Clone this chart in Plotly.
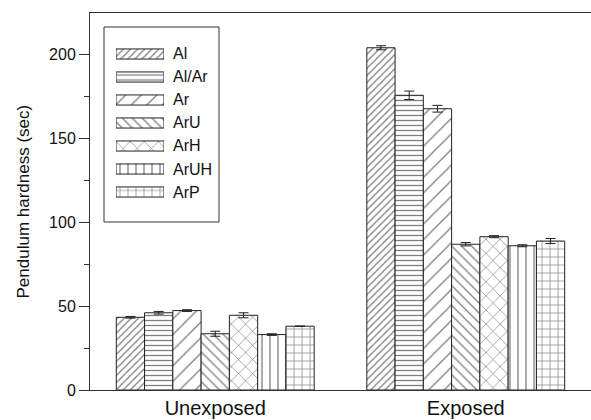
import plotly.graph_objects as go

categories = ["Unexposed", "Exposed"]
series = ["Al", "Al/Ar", "Ar", "ArU", "ArH", "ArUH", "ArP"]
values = {
    "Al": [43.3, 203.8],
    "Al/Ar": [46.0, 175.5],
    "Ar": [47.3, 167.5],
    "ArU": [33.5, 86.8],
    "ArH": [44.5, 91.3],
    "ArUH": [33.0, 85.9],
    "ArP": [38.0, 88.7],
}
errors = {
    "Al": [0.5, 1.2],
    "Al/Ar": [0.8, 2.5],
    "Ar": [0.5, 2.0],
    "ArU": [1.5, 1.0],
    "ArH": [1.5, 0.6],
    "ArUH": [0.5, 0.6],
    "ArP": [0.0, 1.5],
}
y_ticks = [0, 50, 100, 150, 200]
y_minor = [25, 75, 125, 175]
y_title = "Pendulum hardness (sec)"
patterns = {
    "Al": ("/", 5),
    "Al/Ar": ("-", 5),
    "Ar": ("/", 11),
    "ArU": ("\\", 7),
    "ArH": ("x", 10),
    "ArUH": ("|", 8),
    "ArP": ("+", 8),
}

def marker(s):
    shp, size = patterns[s]
    return dict(color="white", line=dict(color="#222", width=1),
                pattern=dict(shape=shp, size=size, solidity=1.3 / size,
                             fgcolor="#000", bgcolor="white", fillmode="overlay"))

fig = go.Figure()
for s in series:
    fig.add_trace(go.Bar(
        name=s, x=categories, y=values[s], marker=marker(s), showlegend=False,
        error_y=dict(type="data", array=errors[s], color="#222", thickness=1, width=5),
    ))

# legend swatches drawn as bars on an inset axis
for i, s in enumerate(series):
    fig.add_trace(go.Bar(
        x=[1], y=[i], orientation="h", width=0.44, offset=-0.22,
        marker=marker(s), xaxis="x2", yaxis="y2", showlegend=False, hoverinfo="skip",
    ))

W = 501.0
H = 377.0
def px(x):
    return (x - 90) / W
def py(y):
    return (390 - y) / H

for i, s in enumerate(series):
    fig.add_annotation(text=s, xref="paper", yref="paper", x=px(171), y=py(54 + 23 * i),
                       xanchor="left", yanchor="middle", showarrow=False,
                       font=dict(size=16, color="#111"))

fig.add_annotation(text=y_title, xref="paper", yref="paper", x=px(23), y=0.5,
                   xanchor="center", yanchor="middle", textangle=-90, showarrow=False,
                   font=dict(size=17, color="#111"))

fig.add_shape(type="rect", xref="paper", yref="paper",
              x0=px(104), x1=px(219), y0=py(222), y1=py(27),
              line=dict(color="#333", width=1), fillcolor="rgba(0,0,0,0)")

fig.update_layout(
    template="none",
    width=591, height=420, autosize=False,
    margin=dict(l=90, r=0, t=13, b=30, pad=0, autoexpand=False),
    paper_bgcolor="white", plot_bgcolor="white",
    barmode="group", bargap=0.21, bargroupgap=0,
    font=dict(family="Liberation Sans, Arial, sans-serif", size=16, color="#111"),
    showlegend=False,
    xaxis=dict(showline=True, linecolor="#333", linewidth=1, mirror=True, automargin=False,
               ticks="", showgrid=False, zeroline=False, range=[-0.5, 1.5],
               tickfont=dict(size=20)),
    yaxis=dict(showline=True, linecolor="#333", linewidth=1, range=[0, 224.5], automargin=False,
               tickvals=y_ticks, ticks="outside", ticklen=10, tickcolor="#333",
               showgrid=False, zeroline=False, tickfont=dict(size=16),
               minor=dict(tickvals=y_minor, ticks="outside", ticklen=5, tickcolor="#333")),
    xaxis2=dict(domain=[px(116), px(164)], anchor="y2", range=[0, 1], visible=False,
                fixedrange=True, automargin=False),
    yaxis2=dict(domain=[py(192 + 11.5), py(54 - 11.5)], anchor="x2", range=[6.5, -0.5],
                visible=False, fixedrange=True, automargin=False),
)

fig.write_html(
    "out.html",
    config={"displayModeBar": False, "responsive": False},
    post_script="document.documentElement.style.overflow='hidden';"
                "document.body.style.overflow='hidden';document.body.style.margin='0';",
)
